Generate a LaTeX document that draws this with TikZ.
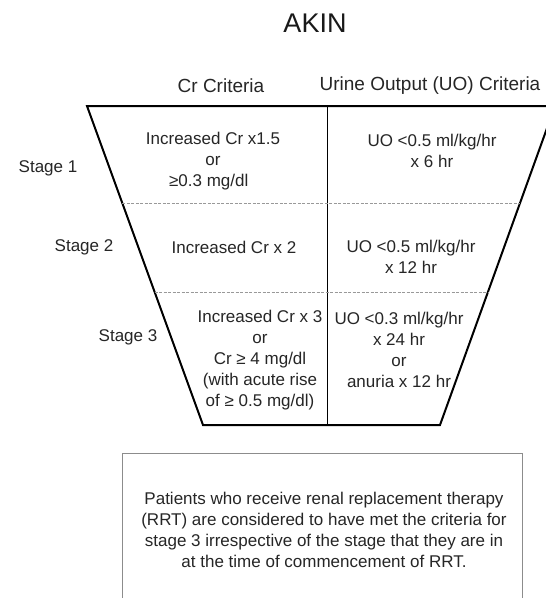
\documentclass[tikz,border=0pt]{standalone}
\usepackage{fontspec}
\setmainfont{Liberation Sans}
\usetikzlibrary{calc}

\begin{document}
\begin{tikzpicture}[x=1pt,y=-1pt,label/.style={inner sep=0pt,align=center,text=black!85,font=\fontsize{17}{21}\selectfont},head/.style={label,font=\fontsize{19}{21}\selectfont},title/.style={inner sep=0pt,text=black!90,font=\fontsize{27}{30}\selectfont},frame/.style={line width=2pt,line join=miter},divider/.style={line width=0.9pt},stageline/.style={black!40,line width=0.8pt,dash pattern=on 3pt off 1.5pt},notebox/.style={black!45,line width=1pt}]
  \useasboundingbox (0,0) rectangle (546,598);
  \clip (0,0) rectangle (546,598);
  \fill[white] (0,0) rectangle (546,598);
  \node[title] (akin) at (315,23) {AKIN};
  \node[head] (crhead) at (221,86) {Cr Criteria};
  \node[head] (uohead) at (430,86) {Urine Output (UO) Criteria};
  % funnel corners
  \coordinate (tl) at (87,106);
  \coordinate (tr) at (555,106);
  \coordinate (bl) at (203,425);
  \coordinate (br) at (440,425);
  \coordinate (dtop) at (327,106);
  \coordinate (dbot) at (327,425);
  \draw[frame] (tl) -- (tr) -- (br) -- (bl) -- cycle;
  \draw[divider] (dtop) -- (dbot);
  \draw[stageline] ($ (tl)!0.304!(bl) $) -- ($ (tr)!0.304!(br) $);
  \draw[stageline] ($ (tl)!0.583!(bl) $) -- ($ (tr)!0.583!(br) $);
  \node[label] (stage1) at (48,168) {Stage 1};
  \node[label] (stage2) at (84,247) {Stage 2};
  \node[label] (stage3) at (128,337) {Stage 3};
  \node[label] (cr1) at (213,161) {Increased Cr x1.5\\or\\{\hspace*{-0.5em}}≥0.3 mg/dl};
  \node[label] (uo1) at (432,151) {UO <0.5 ml/kg/hr\\x 6 hr};
  \node[label] (cr2) at (234,247) {Increased Cr x 2};
  \node[label] (uo2) at (411,257) {UO <0.5 ml/kg/hr\\x 12 hr};
  \node[label] (cr3) at (260,360) {Increased Cr x 3\\or\\Cr ≥ 4 mg/dl\\(with acute rise\\of ≥ 0.5 mg/dl)};
  \node[label] (uo3) at (399,350) {UO <0.3 ml/kg/hr\\x 24 hr\\or\\anuria x 12 hr};
  % note box, open at the bottom
  \coordinate (nbl) at (122,600);
  \coordinate (ntl) at (122,453);
  \coordinate (ntr) at (522,453);
  \coordinate (nbr) at (522,600);
  \draw[notebox] (nbl) -- (ntl) -- (ntr) -- (nbr);
  \node[label] (rrt) at (324,530) {Patients who receive renal replacement therapy\\(RRT) are considered to have met the criteria for\\stage 3 irrespective of the stage that they are in\\at the time of commencement of RRT.};
\end{tikzpicture}
\end{document}
